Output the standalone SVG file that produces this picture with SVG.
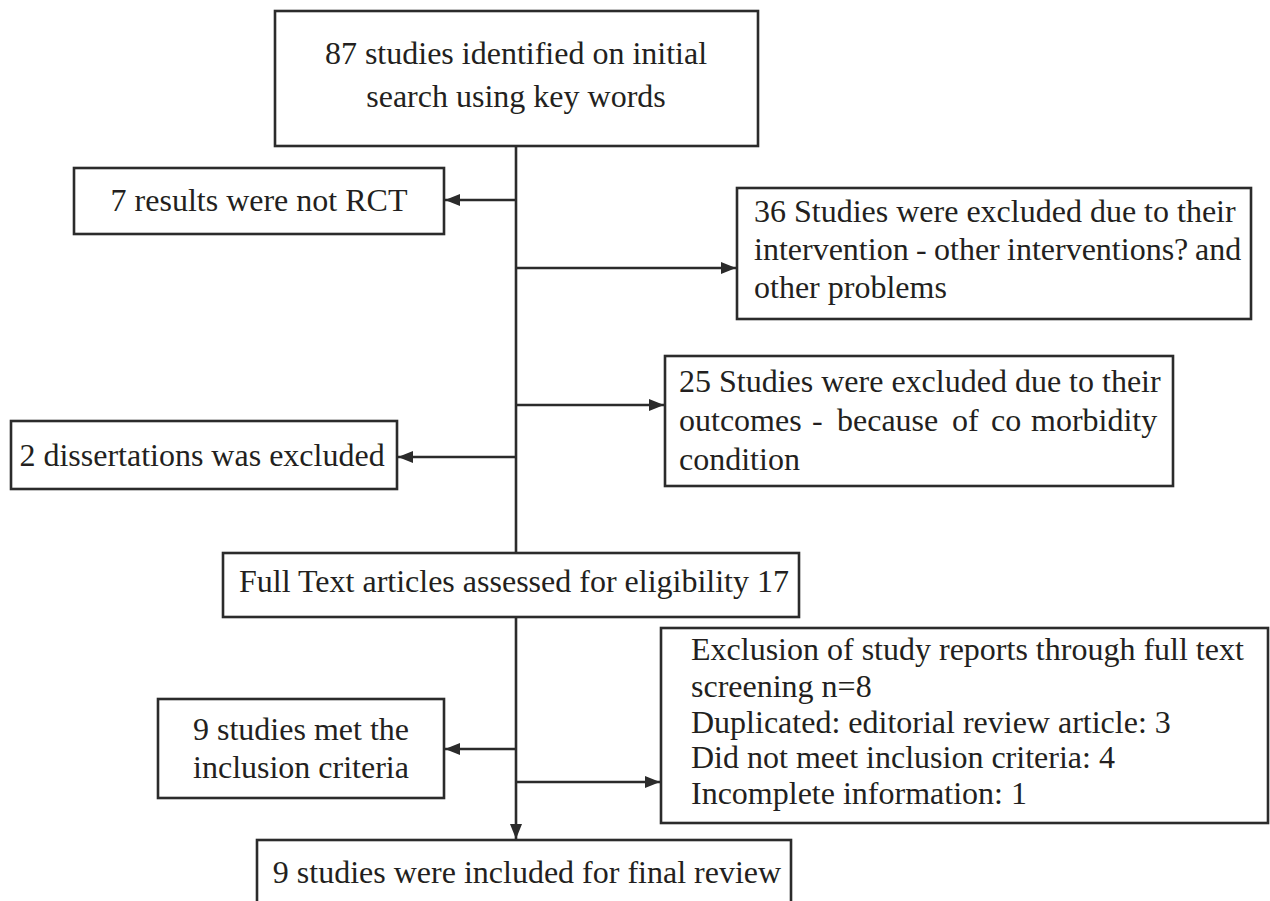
<svg xmlns="http://www.w3.org/2000/svg" width="1270" height="901" viewBox="0 0 1270 901">
<defs>
<style>
.box{fill:#fff;stroke:#2b2b2b;stroke-width:2.6}
.t{font-family:"Liberation Serif","Times New Roman",serif;font-size:32px;fill:#231f20}
.m{text-anchor:middle}
.c{fill:none;stroke:#2b2b2b;stroke-width:2.6}
</style>
<marker id="ah" markerUnits="userSpaceOnUse" markerWidth="15" markerHeight="12" refX="15" refY="6" orient="auto">
<path d="M0,0 L15,6 L0,12 z" fill="#2b2b2b"/>
</marker>
</defs>
<rect width="1270" height="901" fill="#fff"/>
<g id="connectors">
<line class="c" x1="516" y1="146" x2="516" y2="553"/>
<line class="c" x1="516" y1="617" x2="516" y2="839" marker-end="url(#ah)"/>
<line class="c" x1="516" y1="200" x2="445" y2="200" marker-end="url(#ah)"/>
<line class="c" x1="516" y1="268" x2="736" y2="268" marker-end="url(#ah)"/>
<line class="c" x1="516" y1="405" x2="664" y2="405" marker-end="url(#ah)"/>
<line class="c" x1="516" y1="457" x2="398" y2="457" marker-end="url(#ah)"/>
<line class="c" x1="516" y1="749" x2="445" y2="749" marker-end="url(#ah)"/>
<line class="c" x1="516" y1="782" x2="660" y2="782" marker-end="url(#ah)"/>
</g>
<g id="n_identified">
<rect class="box" x="275" y="11" width="483" height="135"/>
<text class="t m" x="516" y="64">87 studies identified on initial</text>
<text class="t m" x="516" y="107">search using key words</text>
</g>
<g id="n_notrct">
<rect class="box" x="74" y="168" width="370" height="66"/>
<text class="t m" x="259" y="211">7 results were not RCT</text>
</g>
<g id="n_intervention">
<rect class="box" x="737" y="188" width="514" height="131"/>
<text class="t" x="754" y="222">36 Studies were excluded due to their</text>
<text class="t" y="260"><tspan x="754">intervention</tspan><tspan x="916">-</tspan><tspan x="934">other</tspan><tspan x="1007">interventions?</tspan><tspan x="1195">and</tspan></text>
<text class="t" x="754" y="298">other problems</text>
</g>
<g id="n_outcomes">
<rect class="box" x="665" y="356" width="508" height="130"/>
<text class="t" x="679" y="392">25 Studies were excluded due to their</text>
<text class="t" y="431"><tspan x="679">outcomes</tspan><tspan x="812">-</tspan><tspan x="837">because</tspan><tspan x="952">of</tspan><tspan x="991">co</tspan><tspan x="1031">morbidity</tspan></text>
<text class="t" x="679" y="470">condition</text>
</g>
<g id="n_dissertations">
<rect class="box" x="11" y="421" width="386" height="68"/>
<text class="t m" x="202" y="466">2 dissertations was excluded</text>
</g>
<g id="n_fulltext">
<rect class="box" x="223" y="553" width="576" height="64"/>
<text class="t m" x="514" y="592">Full Text articles assessed for eligibility 17</text>
</g>
<g id="n_exclusion">
<rect class="box" x="661" y="628" width="607" height="195"/>
<text class="t" x="691" y="660">Exclusion of study reports through full text</text>
<text class="t" x="691" y="697">screening n=8</text>
<text class="t" x="691" y="733">Duplicated: editorial review article: 3</text>
<text class="t" x="691" y="768">Did not meet inclusion criteria: 4</text>
<text class="t" x="691" y="804">Incomplete information: 1</text>
</g>
<g id="n_met">
<rect class="box" x="158" y="699" width="286" height="99"/>
<text class="t m" x="301" y="740">9 studies met the</text>
<text class="t m" x="301" y="778">inclusion criteria</text>
</g>
<g id="n_final">
<rect class="box" x="257" y="840" width="534" height="70"/>
<text class="t m" x="527" y="883">9 studies were included for final review</text>
</g>
</svg>
